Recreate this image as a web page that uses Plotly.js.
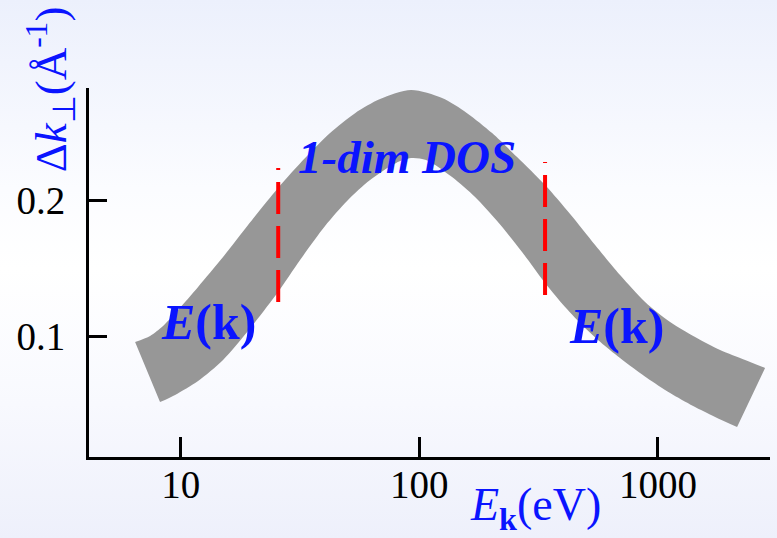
<!DOCTYPE html>
<html>
<head>
<meta charset="utf-8">
<script src="https://cdn.plot.ly/plotly-3.0.1.min.js"></script>
<style>
  html, body { margin: 0; padding: 0; }
  body {
    width: 777px; height: 538px; overflow: hidden;
    background: linear-gradient(to bottom, #ecf0fc 0%, #fbfcff 35%, #ffffff 50%, #f8f9fe 75%, #eef0fb 100%);
  }
  #chart { width: 777px; height: 538px; }
</style>
</head>
<body>
<div id="chart"></div>
<script>
// Upper edge of the band: kinetic energy (eV) and Δk⊥ (1/Å)
const upperE = [6.43, 7.43, 8.42, 9.73, 11.81, 15.03, 19.13, 25.56, 33.18, 42.22, 53.75, 68.43, 92.3, 124.5, 158.5, 201.8, 256.8, 336.5, 428.5, 545.4, 694.0, 883.7, 1125, 1432, 1823, 2321, 2814];
const upperK = [0.0961, 0.1005, 0.1078, 0.1195, 0.1364, 0.1583, 0.1817, 0.2088, 0.2307, 0.2490, 0.2636, 0.2739, 0.2805, 0.2746, 0.2636, 0.2490, 0.2315, 0.2110, 0.1898, 0.1671, 0.1451, 0.1254, 0.1108, 0.0998, 0.0903, 0.0830, 0.0771];
// Lower edge of the band
const lowerE = [8.18, 9.46, 11.81, 15.03, 19.13, 25.56, 31.61, 40.23, 49.76, 62.13, 79.87, 92.3, 106.7, 137.1, 171.2, 211.8, 269.5, 336.5, 408.2, 495.1, 600.7, 728.7, 900.6, 1125, 1405, 1737, 2148];
const lowerK = [0.0522, 0.0574, 0.0676, 0.0830, 0.1042, 0.1327, 0.1561, 0.1810, 0.1993, 0.2146, 0.2271, 0.2307, 0.2293, 0.2168, 0.2022, 0.1846, 0.1620, 0.1393, 0.1217, 0.1064, 0.0932, 0.0815, 0.0698, 0.0588, 0.0493, 0.0413, 0.0339];
// Red dashed boundaries of the 1-dim DOS region
const boundE = [25.6, 336.5];
const boundKLow = [0.1254, 0.1305];
const boundKHigh = [0.2235, 0.2278];
// Tick labels
const xTickVals = [10, 100, 1000];
const xTickText = ['10', '100', '1000'];
const yTickVals = [0.1, 0.2];
const yTickText = ['0.1', '0.2'];

const serif = 'Liberation Serif, Times New Roman, serif';
const blue = '#0a14ff';
const grey = '#979797';

const traces = [
  { x: lowerE, y: lowerK, mode: 'lines', line: { width: 0, shape: 'spline', smoothing: 0.8, color: grey }, hoverinfo: 'skip', showlegend: false },
  { x: upperE, y: upperK, mode: 'lines', line: { width: 0, shape: 'spline', smoothing: 0.8, color: grey }, fill: 'tonexty', fillcolor: grey, hoverinfo: 'skip', showlegend: false }
];
for (let i = 0; i < boundE.length; i++) {
  traces.push({
    x: [boundE[i], boundE[i]], y: [boundKLow[i], boundKHigh[i]],
    mode: 'lines', line: { color: '#ff0000', width: 4, dash: '32px,12px' },
    hoverinfo: 'skip', showlegend: false
  });
}

const layout = {
  width: 777, height: 538,
  margin: { l: 89, r: 7, t: 88, b: 81 },
  paper_bgcolor: 'rgba(0,0,0,0)',
  plot_bgcolor: 'rgba(0,0,0,0)',
  showlegend: false,
  font: { family: serif, color: '#000000', size: 39 },
  xaxis: {
    type: 'log', range: [0.615, 3.470],
    showline: true, linecolor: '#000000', linewidth: 3, mirror: false,
    showgrid: false, zeroline: false,
    ticks: 'inside', ticklen: 20, tickwidth: 3, tickcolor: '#000000',
    tickmode: 'array', tickvals: xTickVals, ticktext: xTickText,
    tickfont: { family: serif, size: 39, color: '#000000' },
    ticklabelstandoff: -9
  },
  yaxis: {
    range: [0.012, 0.282],
    showline: true, linecolor: '#000000', linewidth: 3, mirror: false,
    showgrid: false, zeroline: false,
    ticks: 'inside', ticklen: 18, tickwidth: 3, tickcolor: '#000000',
    tickmode: 'array', tickvals: yTickVals, ticktext: yTickText,
    tickfont: { family: serif, size: 39, color: '#000000' },
    ticklabelstandoff: 13
  },
  annotations: [
    { xref: 'paper', yref: 'paper', x: 0.467, y: 0.813, xanchor: 'center', yanchor: 'middle', showarrow: false,
      text: '<b><i>1-dim DOS</i></b>', font: { family: serif, size: 47, color: blue } },
    { xref: 'paper', yref: 'paper', x: 0.176, y: 0.366, xanchor: 'center', yanchor: 'middle', showarrow: false,
      text: '<b><i>E</i>(k)</b>', font: { family: serif, size: 50, color: blue } },
    { xref: 'paper', yref: 'paper', x: 0.775, y: 0.355, xanchor: 'center', yanchor: 'middle', showarrow: false,
      text: '<b><i>E</i>(k)</b>', font: { family: serif, size: 50, color: blue } },
    { xref: 'paper', yref: 'paper', x: 0.655, y: -0.138, xanchor: 'center', yanchor: 'middle', showarrow: false,
      text: '<i>E</i><sub><b>k</b></sub>(eV)', font: { family: serif, size: 46, color: blue } },
    { xref: 'paper', yref: 'paper', x: -0.057, y: 0.997, xanchor: 'center', yanchor: 'middle', showarrow: false, textangle: -90,
      text: 'Δ<i>k</i><sub>⊥</sub>(Å<sup>-1</sup>)', font: { family: serif, size: 45, color: blue } }
  ]
};

Plotly.newPlot('chart', traces, layout, { staticPlot: true, displayModeBar: false });
</script>
</body>
</html>
